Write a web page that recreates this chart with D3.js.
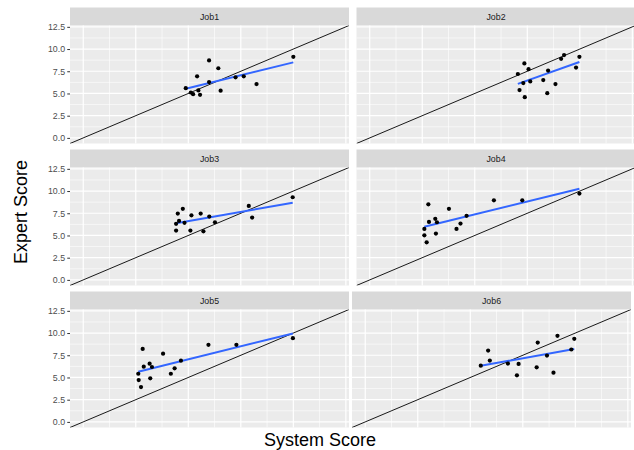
<!DOCTYPE html>
<html>
<head>
<meta charset="utf-8">
<script src="https://cdn.jsdelivr.net/npm/d3@7"></script>
<style>
  body { margin: 0; background: #ffffff; }
  svg { display: block; }
  text { font-family: "Liberation Sans", Arial, sans-serif; }
</style>
</head>
<body>
<svg id="chart" width="634" height="450"></svg>
<script>
// Facet labels
const jobs = ["Job1", "Job2", "Job3", "Job4", "Job5", "Job6"];

// System (x) and expert (y) scores per job
const systemJob1 = [4.88, 5.12, 5.23, 5.42, 5.48, 5.56, 5.99, 5.99, 6.43, 6.54, 7.25, 7.64, 8.25, 10.0];
const expertJob1 = [5.60, 5.11, 4.92, 6.93, 5.34, 4.85, 8.72, 6.28, 7.84, 5.31, 6.82, 6.93, 6.06, 9.13];

const systemJob2 = [7.05, 7.13, 7.31, 7.36, 7.38, 7.56, 7.64, 8.26, 8.45, 8.49, 8.84, 9.11, 9.25, 9.82, 9.98];
const expertJob2 = [7.19, 5.38, 6.17, 8.38, 4.58, 7.73, 6.36, 6.51, 5.03, 7.58, 6.06, 8.90, 9.32, 7.92, 9.13];

const systemJob3 = [4.42, 4.42, 4.50, 4.56, 4.74, 4.82, 5.10, 5.15, 5.59, 5.72, 6.00, 6.27, 7.88, 8.04, 9.97];
const expertJob3 = [6.31, 5.55, 7.47, 6.64, 8.00, 6.42, 5.55, 7.27, 7.47, 5.47, 7.13, 6.49, 8.33, 7.02, 9.30];

const systemJob4 = [2.60, 2.60, 2.71, 2.79, 2.82, 3.12, 3.15, 3.20, 3.77, 4.13, 4.32, 4.61, 5.91, 7.26, 9.98];
const expertJob4 = [5.74, 5.02, 4.23, 8.51, 6.53, 6.87, 5.21, 6.49, 8.00, 5.74, 6.34, 7.21, 8.96, 8.96, 9.72];

const systemJob5 = [2.62, 2.64, 2.75, 2.83, 2.88, 3.16, 3.19, 3.27, 3.80, 4.17, 4.35, 4.65, 5.96, 7.29, 9.98];
const expertJob5 = [5.42, 4.71, 3.92, 8.21, 6.21, 6.55, 4.90, 6.18, 7.68, 5.42, 6.03, 6.89, 8.67, 8.67, 9.42];

const systemJob6 = [5.50, 5.85, 5.93, 6.79, 7.22, 7.30, 8.16, 8.21, 8.65, 8.96, 9.15, 9.81, 9.95];
const expertJob6 = [6.33, 8.03, 6.90, 6.56, 5.24, 6.52, 6.14, 8.93, 7.46, 5.54, 9.69, 8.15, 9.35];

// Y axis ticks
const yTickValues = [0, 2.5, 5, 7.5, 10, 12.5];
const yTickLabels = ["0.0", "2.5", "5.0", "7.5", "10.0", "12.5"];
const minorBreaks = [1.25, 3.75, 6.25, 8.75, 11.25];

const systemScores = [systemJob1, systemJob2, systemJob3, systemJob4, systemJob5, systemJob6];
const expertScores = [expertJob1, expertJob2, expertJob3, expertJob4, expertJob5, expertJob6];

// Layout
const domain = [-0.63, 12.65];
const panelW = 279, panelH = 118, stripH = 18;
const colLeft = [70, 356.5];
const rowTop = [7.5, 149.5, 291.5];
const panelShift = [0, 0, 0, 0, 0, -4.5];

const svg = d3.select("#chart");

// Ordinary least squares fit, as geom_smooth(method = "lm")
function linearFit(xs, ys) {
  const mx = d3.mean(xs), my = d3.mean(ys);
  let sxy = 0, sxx = 0;
  xs.forEach((v, k) => { sxy += (v - mx) * (ys[k] - my); sxx += (v - mx) * (v - mx); });
  const slope = sxy / sxx;
  return v => my + slope * (v - mx);
}

jobs.forEach((job, i) => {
  const col = i % 2, row = Math.floor(i / 2);
  const left = colLeft[col] + panelShift[i];
  const top = rowTop[row];

  const g = svg.append("g").attr("transform", `translate(${left},${top})`);

  // strip
  g.append("rect").attr("width", panelW).attr("height", stripH).attr("fill", "#D9D9D9");
  g.append("text")
    .attr("x", panelW / 2).attr("y", stripH / 2).attr("dy", "0.35em")
    .attr("text-anchor", "middle").attr("font-size", 8.8).attr("fill", "#1A1A1A")
    .text(job);

  const p = g.append("g").attr("transform", `translate(0,${stripH})`);
  const x = d3.scaleLinear().domain(domain).range([0, panelW]);
  const y = d3.scaleLinear().domain(domain).range([panelH, 0]);

  const clipId = "clip" + i;
  p.append("clipPath").attr("id", clipId)
    .append("rect").attr("width", panelW).attr("height", panelH);

  p.append("rect").attr("width", panelW).attr("height", panelH).attr("fill", "#EBEBEB");

  // grid
  const grid = p.append("g").attr("stroke", "#FFFFFF");
  grid.selectAll(".vminor").data(minorBreaks).join("line")
    .attr("x1", d => x(d)).attr("x2", d => x(d)).attr("y1", 0).attr("y2", panelH)
    .attr("stroke-width", 0.6);
  grid.selectAll(".hminor").data(minorBreaks).join("line")
    .attr("y1", d => y(d)).attr("y2", d => y(d)).attr("x1", 0).attr("x2", panelW)
    .attr("stroke-width", 0.6);
  grid.selectAll(".vmajor").data(yTickValues).join("line")
    .attr("x1", d => x(d)).attr("x2", d => x(d)).attr("y1", 0).attr("y2", panelH)
    .attr("stroke-width", 1.2);
  grid.selectAll(".hmajor").data(yTickValues).join("line")
    .attr("y1", d => y(d)).attr("y2", d => y(d)).attr("x1", 0).attr("x2", panelW)
    .attr("stroke-width", 1.2);

  const inner = p.append("g").attr("clip-path", `url(#${clipId})`);

  // identity line y = x
  inner.append("line")
    .attr("x1", x(domain[0])).attr("y1", y(domain[0]))
    .attr("x2", x(domain[1])).attr("y2", y(domain[1]))
    .attr("stroke", "#000000").attr("stroke-width", 0.9);

  // fitted line
  const xs = systemScores[i], ys = expertScores[i];
  const fit = linearFit(xs, ys);
  const [xmin, xmax] = d3.extent(xs);
  inner.append("line")
    .attr("x1", x(xmin)).attr("y1", y(fit(xmin)))
    .attr("x2", x(xmax)).attr("y2", y(fit(xmax)))
    .attr("stroke", "#3366FF").attr("stroke-width", 2);

  // points
  inner.selectAll("circle").data(xs).join("circle")
    .attr("cx", d => x(d)).attr("cy", (d, k) => y(ys[k]))
    .attr("r", 2.1).attr("fill", "#000000");

  // y axis on the left column
  if (col === 0) {
    const ax = p.append("g").call(
      d3.axisLeft(y).tickValues(yTickValues)
        .tickFormat((d, k) => yTickLabels[k])
        .tickSize(2.75).tickPadding(2.2)
    );
    ax.select(".domain").remove();
    ax.selectAll(".tick line").attr("stroke", "#333333");
    ax.selectAll(".tick text").attr("fill", "#4D4D4D").attr("font-size", 8.8)
      .attr("font-family", "Liberation Sans, Arial, sans-serif");
  }
});

// axis titles
svg.append("text")
  .attr("x", 320).attr("y", 446)
  .attr("text-anchor", "middle").attr("font-size", 18).attr("fill", "#000000")
  .text("System Score");

svg.append("text")
  .attr("transform", "translate(27,212) rotate(-90)")
  .attr("text-anchor", "middle").attr("font-size", 18).attr("fill", "#000000")
  .text("Expert Score");
</script>
</body>
</html>
